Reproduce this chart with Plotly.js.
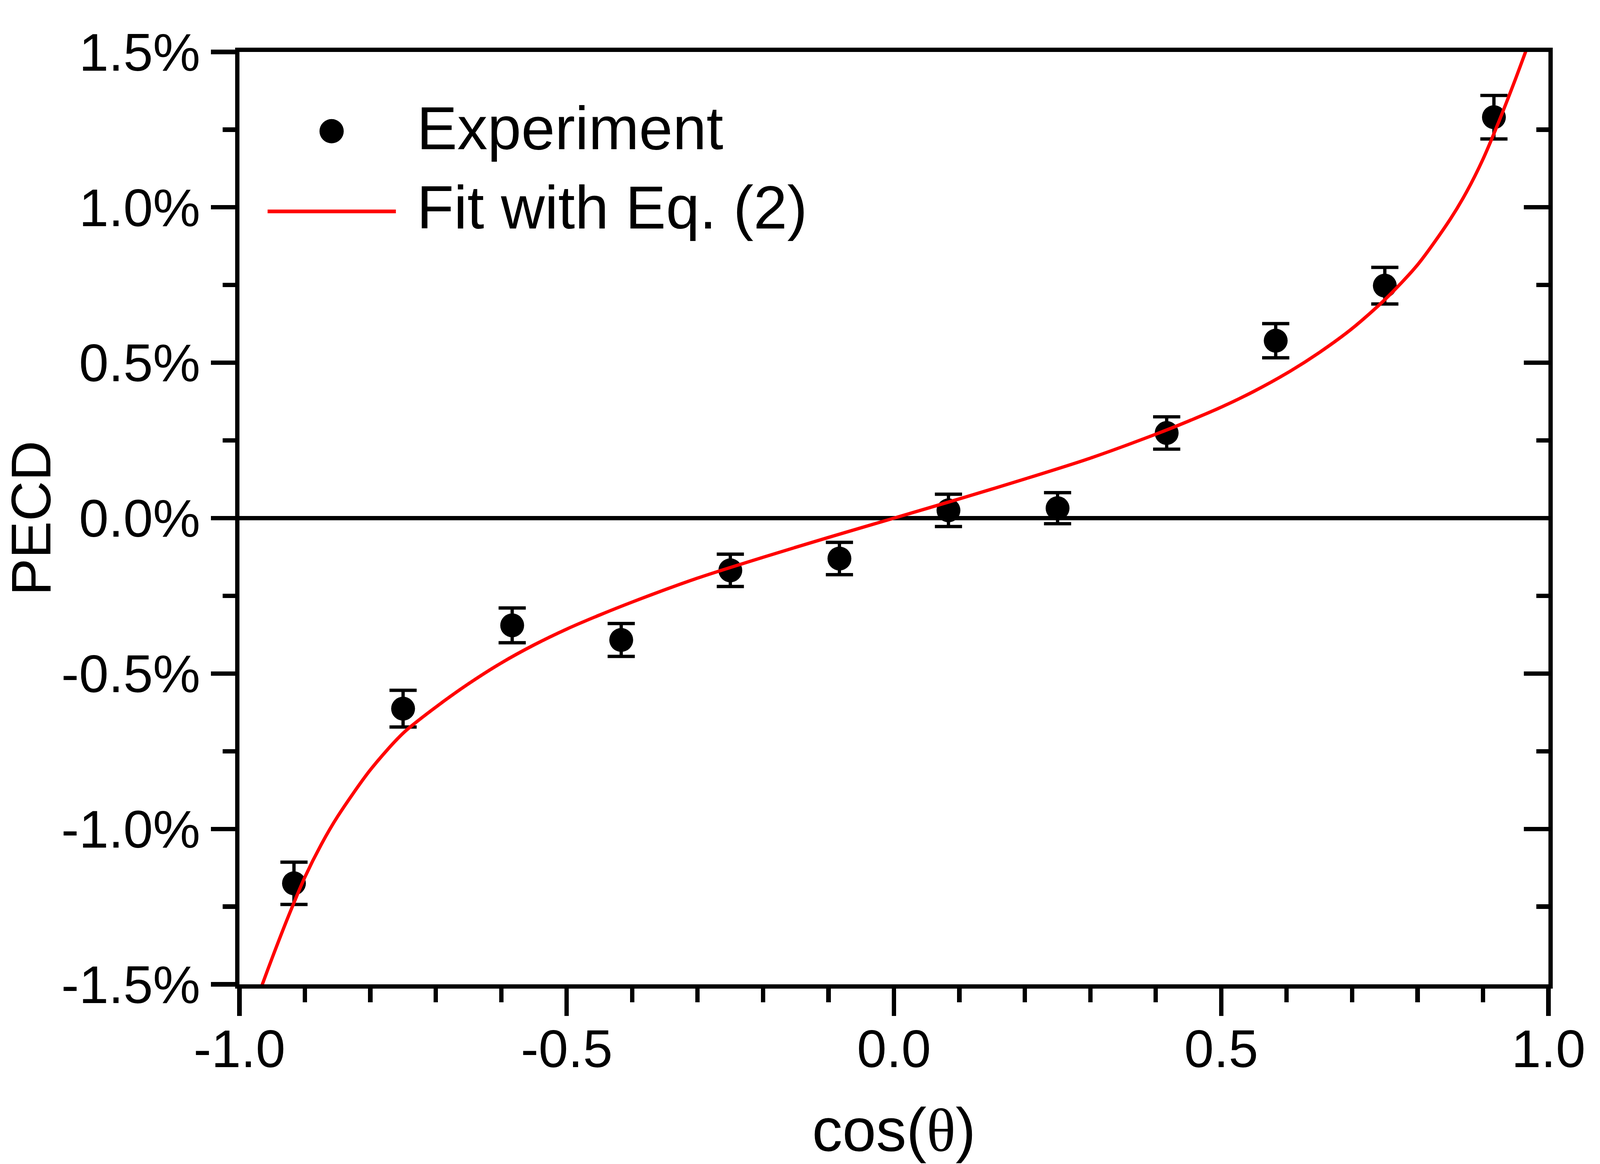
<!DOCTYPE html>
<html>
<head>
<meta charset="utf-8">
<script src="https://cdn.plot.ly/plotly-3.0.1.min.js"></script>
<style>html,body{margin:0;padding:0;background:#fff;overflow:hidden;}</style>
</head>
<body>
<div id="chart"></div>
<script>
// Experimental PECD values (in %) vs cos(theta)
const cosTheta = [-0.9167, -0.75, -0.5833, -0.4167, -0.25, -0.0833, 0.0833, 0.25, 0.4167, 0.5833, 0.75, 0.9167];
const pecd     = [-1.175, -0.613, -0.345, -0.392, -0.168, -0.130, 0.025, 0.032, 0.274, 0.571, 0.748, 1.290];
const pecdErr  = [0.068, 0.059, 0.056, 0.053, 0.052, 0.052, 0.052, 0.050, 0.052, 0.055, 0.059, 0.070];

// Fit curve (Eq. 2)
const fitX = [-0.975, -0.965, -0.95, -0.925, -0.9, -0.875, -0.85, -0.8, -0.75, -0.7, -0.65, -0.6, -0.55, -0.5, -0.45, -0.4, -0.3, -0.2, -0.1, 0.0,
              0.1, 0.2, 0.3, 0.4, 0.45, 0.5, 0.55, 0.6, 0.65, 0.7, 0.75, 0.8, 0.85, 0.875, 0.9, 0.925, 0.95, 0.965, 0.975];
const fitY = [-1.56, -1.50, -1.415, -1.28, -1.155, -1.05, -0.960, -0.810, -0.692, -0.608, -0.533, -0.466, -0.408, -0.357, -0.312, -0.270, -0.193, -0.126, -0.062, 0.0,
              0.062, 0.126, 0.193, 0.270, 0.312, 0.357, 0.408, 0.466, 0.533, 0.610, 0.703, 0.815, 0.962, 1.05, 1.155, 1.28, 1.415, 1.50, 1.56];

// Ticks
const xTickVals = [-1, -0.5, 0, 0.5, 1];
const xTickText = ["-1.0", "-0.5", "0.0", "0.5", "1.0"];
const yTickVals = [-1.5, -1, -0.5, 0, 0.5, 1, 1.5];
const yTickText = ["-1.5%", "-1.0%", "-0.5%", "0.0%", "0.5%", "1.0%", "1.5%"];

const legendLabels = ["Experiment", "Fit with Eq. (2)"];
const xTitle = 'cos(<span style="font-family:Liberation Serif">θ</span>)';
const yTitle = "PECD";

const FONT = "Liberation Sans, Arial, sans-serif";

// Fit the 4653x2980 design into the actual viewport
const W = window.innerWidth || 4653;
const H = window.innerHeight || 2980;
const sx = W / 4653, sy = H / 2980, fs = (sx + sy) / 2;
document.getElementById("chart").style.width = W + "px";
document.getElementById("chart").style.height = H + "px";

const traces = [
  {
    x: cosTheta, y: pecd, type: "scatter", mode: "markers",
    marker: {color: "#000000", size: 65 * fs},
    error_y: {type: "data", array: pecdErr, visible: true, color: "#000000", thickness: 9 * fs, width: 37 * fs},
    showlegend: false, cliponaxis: false
  },
  {
    x: fitX, y: fitY, type: "scatter", mode: "lines",
    line: {color: "#FF0000", width: 9 * fs, shape: "spline", smoothing: 0.8},
    showlegend: false
  },
  { x: [], y: [], yaxis: "y2", type: "scatter", mode: "markers", showlegend: false, hoverinfo: "skip" }
];

const lw = 12 * fs;
const tickFont = {family: FONT, size: 145 * fs, color: "#000000"};

const layout = {
  width: W, height: H,
  margin: {l: 696 * sx, r: 150 * sx, t: 133 * sy, b: 460 * sy, pad: 0},
  paper_bgcolor: "#ffffff", plot_bgcolor: "#ffffff",
  font: {family: FONT, color: "#000000"},
  showlegend: false,
  xaxis: {
    range: [-1, 1], tickmode: "array", tickvals: xTickVals, ticktext: xTickText,
    showgrid: false, zeroline: false, showline: true, mirror: true, linecolor: "#000000", linewidth: lw,
    ticks: "outside", ticklen: 70 * sy, tickwidth: lw, tickcolor: "#000000", tickfont: tickFont,
    ticklabelstandoff: -33 * sy,
    minor: {tickmode: "linear", tick0: -1, dtick: 0.1, ticks: "outside", ticklen: 35 * sy, tickwidth: lw, tickcolor: "#000000", showgrid: false},
    title: {text: xTitle, font: {family: FONT, size: 165 * fs, color: "#000000"}, standoff: 100 * sy}
  },
  yaxis: {
    range: [-1.5, 1.5], tickmode: "array", tickvals: yTickVals, ticktext: yTickText,
    showgrid: false, showline: true, mirror: true, linecolor: "#000000", linewidth: lw,
    zeroline: true, zerolinecolor: "#000000", zerolinewidth: 11 * fs,
    ticks: "outside", ticklen: 70 * sx, tickwidth: lw, tickcolor: "#000000", tickfont: tickFont,
    ticklabelstandoff: 5 * sx,
    minor: {tickmode: "linear", tick0: -1.5, dtick: 0.25, ticks: "outside", ticklen: 36 * sx, tickwidth: lw, tickcolor: "#000000", showgrid: false},
    title: {text: yTitle, font: {family: FONT, size: 152 * fs, color: "#000000"}, standoff: 74 * sx}
  },
  yaxis2: {
    overlaying: "y", side: "right", anchor: "x", range: [-1.5, 1.5],
    showline: false, showgrid: false, zeroline: false, showticklabels: false,
    tickmode: "array", tickvals: yTickVals,
    ticks: "inside", ticklen: 72 * sx, tickwidth: lw, tickcolor: "#000000",
    minor: {tickmode: "linear", tick0: -1.5, dtick: 0.25, ticks: "inside", ticklen: 35 * sx, tickwidth: lw, tickcolor: "#000000", showgrid: false}
  },
  shapes: [
    {type: "circle", xref: "paper", yref: "paper", xsizemode: "pixel", ysizemode: "pixel",
     xanchor: 0.0704, yanchor: 0.915, x0: -33 * fs, x1: 33 * fs, y0: -33 * fs, y1: 33 * fs,
     fillcolor: "#000000", line: {width: 0}},
    {type: "line", xref: "paper", yref: "paper", x0: 0.0215, x1: 0.1195, y0: 0.829, y1: 0.829,
     line: {color: "#FF0000", width: 10 * fs}}
  ],
  annotations: [
    {text: legendLabels[0], xref: "paper", yref: "paper", x: 0.1348, y: 0.918, xanchor: "left", yanchor: "middle",
     showarrow: false, font: {family: FONT, size: 165 * fs, color: "#000000"}},
    {text: legendLabels[1], xref: "paper", yref: "paper", x: 0.1348, y: 0.833, xanchor: "left", yanchor: "middle",
     showarrow: false, font: {family: FONT, size: 165 * fs, color: "#000000"}}
  ]
};

Plotly.newPlot("chart", traces, layout, {staticPlot: true, displayModeBar: false});
</script>
</body>
</html>
